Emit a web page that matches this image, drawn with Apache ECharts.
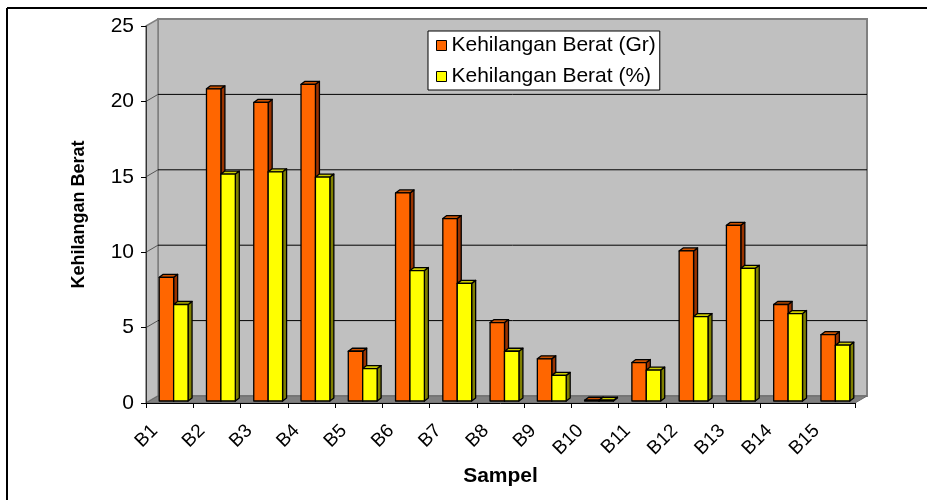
<!DOCTYPE html>
<html>
<head>
<meta charset="utf-8">
<script src="https://cdn.jsdelivr.net/npm/echarts@6/dist/echarts.min.js"></script>
<style>html,body{margin:0;padding:0;background:#fff;}#c{width:927px;height:500px;}</style>
</head>
<body>
<div id="c"></div>
<script>
var categories = ['B1','B2','B3','B4','B5','B6','B7','B8','B9','B10','B11','B12','B13','B14','B15'];
var beratGr = [8.2, 20.7, 19.8, 21.0, 3.3, 13.8, 12.1, 5.2, 2.8, 0.05, 2.55, 9.95, 11.65, 6.4, 4.4];
var beratPct = [6.4, 15.05, 15.2, 14.85, 2.15, 8.65, 7.8, 3.3, 1.7, 0.05, 2.05, 5.6, 8.8, 5.8, 3.7];
var yTicks = [0, 5, 10, 15, 20, 25];
var seriesNames = ['Kehilangan Berat (Gr)', 'Kehilangan Berat (%)'];

var WDX = 12, WDY = -7;      // wall depth offset
var BDX = 4, BDY = -2;       // bar position depth offset
var SDX = 4, SDY = -3;       // bar own depth
var FONT = 'Liberation Sans, Arial, sans-serif';

var palettes = [
  {front: '#FF6600', side: '#993300', top: '#CC5200'},
  {front: '#FFFF00', side: '#808000', top: '#CCCC00'}
];

function barRender(s) {
  return function (params, api) {
    var i = api.value(0), v = api.value(1);
    var base = api.coord([i, 0]);
    var top = api.coord([i, v]);
    var band = api.size([1, 0])[0];
    var w = band * 0.305;
    var x0 = base[0] + BDX - w + s * w;
    var x1 = x0 + w;
    var yb = base[1] + BDY, yt = top[1] + BDY;
    var p = palettes[s];
    var ls = {stroke: '#000', lineWidth: 1.3, lineJoin: 'round'};
    return {
      type: 'group',
      children: [
        {type: 'polygon', shape: {points: [[x1, yt], [x1 + SDX, yt + SDY], [x1 + SDX, yb + SDY], [x1, yb]]},
         style: Object.assign({fill: p.side}, ls)},
        {type: 'polygon', shape: {points: [[x0, yt], [x1, yt], [x1 + SDX, yt + SDY], [x0 + SDX, yt + SDY]]},
         style: Object.assign({fill: p.top}, ls)},
        {type: 'rect', shape: {x: x0, y: yt, width: w, height: yb - yt},
         style: Object.assign({fill: p.front}, ls)}
      ]
    };
  };
}

function wallRender(params, api) {
  var band = api.size([1, 0])[0];
  var xl = api.coord([0, 0])[0] - band / 2;
  var xr = api.coord([categories.length - 1, 0])[0] + band / 2;
  var y0 = api.coord([0, yTicks[0]])[1];
  var yMax = api.coord([0, yTicks[yTicks.length - 1]])[1];
  var ch = [];
  ch.push({type: 'rect', shape: {x: xl + WDX, y: yMax + WDY, width: xr - xl, height: y0 - yMax},
    style: {fill: '#C0C0C0', stroke: '#808080', lineWidth: 2}});
  ch.push({type: 'polygon', shape: {points: [[xl, y0], [xl, yMax], [xl + WDX, yMax + WDY], [xl + WDX, y0 + WDY]]},
    style: {fill: '#C0C0C0', stroke: '#808080', lineWidth: 1.5}});
  ch.push({type: 'polygon', shape: {points: [[xl, y0], [xr, y0], [xr + WDX, y0 + WDY], [xl + WDX, y0 + WDY]]},
    style: {fill: '#808080', stroke: '#6a6a6a', lineWidth: 1}});
  for (var k = 1; k < yTicks.length - 1; k++) {
    var yy = api.coord([0, yTicks[k]])[1];
    ch.push({type: 'line', shape: {x1: xl + WDX, y1: yy + WDY, x2: xr + WDX, y2: yy + WDY},
      style: {stroke: '#000', lineWidth: 1}});
    ch.push({type: 'line', shape: {x1: xl, y1: yy, x2: xl + WDX, y2: yy + WDY},
      style: {stroke: '#555', lineWidth: 1}});
  }
  return {type: 'group', children: ch};
}

var chart = echarts.init(document.getElementById('c'), null, {renderer: 'canvas'});
chart.setOption({
  animation: false,
  backgroundColor: '#fff',
  textStyle: {fontFamily: FONT},
  grid: {left: 146, right: 72, top: 26, bottom: 97, containLabel: false},
  legend: {
    orient: 'vertical',
    left: 428, top: 31,
    backgroundColor: '#fff', borderColor: '#000', borderWidth: 1, borderRadius: 0,
    padding: [4, 4, 3, 8],
    itemGap: 10,
    itemWidth: 10, itemHeight: 10, itemTextGap: 9,
    textStyle: {fontFamily: FONT, fontSize: 21, color: '#000', width: 216},
    data: [
      {name: seriesNames[0], icon: 'rect', itemStyle: {color: palettes[0].front, borderColor: '#000', borderWidth: 1}},
      {name: seriesNames[1], icon: 'rect', itemStyle: {color: palettes[1].front, borderColor: '#000', borderWidth: 1}}
    ]
  },
  xAxis: {
    type: 'category',
    data: categories,
    boundaryGap: true,
    name: 'Sampel',
    nameLocation: 'middle',
    nameGap: 59,
    nameTextStyle: {fontFamily: FONT, fontSize: 21, fontWeight: 'bold', color: '#000'},
    axisLine: {show: true, lineStyle: {color: '#000', width: 1}},
    axisTick: {show: true, length: 5, lineStyle: {color: '#000'}},
    axisLabel: {rotate: 45, margin: 10, fontSize: 19, color: '#000', fontFamily: FONT, padding: [0, 21, 0, 0]},
    splitLine: {show: false}
  },
  yAxis: {
    type: 'value',
    min: 0, max: 25, interval: 5,
    name: 'Kehilangan Berat',
    nameLocation: 'middle',
    nameGap: 58,
    nameTextStyle: {fontFamily: FONT, fontSize: 18, fontWeight: 'bold', color: '#000'},
    axisLine: {show: true, lineStyle: {color: '#333', width: 1}},
    axisTick: {show: true, length: 5, lineStyle: {color: '#000'}},
    axisLabel: {fontSize: 21, color: '#000', margin: 12, fontFamily: FONT},
    splitLine: {show: false}
  },
  graphic: [
    {type: 'line', shape: {x1: 7, y1: 8, x2: 927, y2: 8}, style: {stroke: '#000', lineWidth: 2}},
    {type: 'line', shape: {x1: 7, y1: 8, x2: 7, y2: 500}, style: {stroke: '#000', lineWidth: 2}}
  ],
  series: [
    {type: 'custom', name: '_wall', data: [[0, 0]], renderItem: wallRender, z: 0, silent: true, clip: false},
    {type: 'custom', name: seriesNames[0], itemStyle: {color: palettes[0].front},
     data: beratGr.map(function (v, i) { return [i, v]; }), renderItem: barRender(0), z: 2, clip: false},
    {type: 'custom', name: seriesNames[1], itemStyle: {color: palettes[1].front},
     data: beratPct.map(function (v, i) { return [i, v]; }), renderItem: barRender(1), z: 3, clip: false}
  ]
});
</script>
</body>
</html>
